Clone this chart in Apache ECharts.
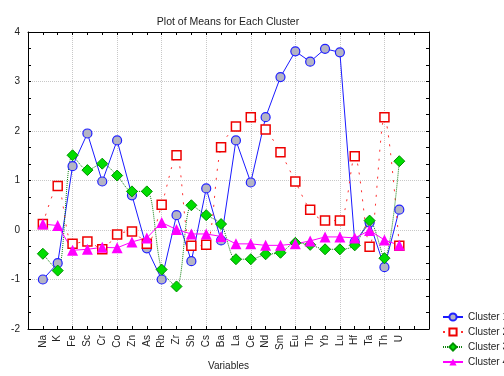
<!DOCTYPE html>
<html>
<head>
<meta charset="utf-8">
<script src="https://cdn.jsdelivr.net/npm/echarts@6/dist/echarts.min.js"></script>
<style>html,body{margin:0;padding:0;background:#fff}#c{width:504px;height:376px}</style>
</head>
<body>
<div id="c"></div>
<script>
const categories = ['Na','K','Fe','Sc','Cr','Co','Zn','As','Rb','Zr','Sb','Cs','Ba','La','Ce','Nd','Sm','Eu','Tb','Yb','Lu','Hf','Ta','Th','U'];
const cluster1 = [-1.00,-0.67,1.29,1.95,0.98,1.81,0.70,-0.37,-1.00,0.30,-0.63,0.84,-0.21,1.81,0.96,2.28,3.09,3.61,3.40,3.66,3.59,-0.24,0.15,-0.75,0.41];
const cluster2 = [0.12,0.89,-0.28,-0.23,-0.39,-0.09,-0.03,-0.28,0.51,1.51,-0.32,-0.30,1.67,2.09,2.28,2.03,1.57,0.98,0.41,0.19,0.19,1.49,-0.34,2.28,-0.32];
const cluster3 = [-0.48,-0.82,1.51,1.21,1.34,1.10,0.78,0.78,-0.80,-1.14,0.50,0.30,0.12,-0.59,-0.59,-0.49,-0.46,-0.26,-0.30,-0.39,-0.39,-0.31,0.19,-0.57,1.39];
const cluster4 = [0.12,0.09,-0.41,-0.39,-0.35,-0.36,-0.24,-0.16,0.15,0.01,-0.08,-0.08,-0.13,-0.28,-0.28,-0.31,-0.31,-0.28,-0.22,-0.14,-0.14,-0.16,-0.01,-0.20,-0.31];
const seriesNames = ['Cluster 1','Cluster 2','Cluster 3','Cluster 4'];
const yTicks = [-2,-1,0,1,2,3,4];

const axisCats = [''].concat(categories, ['', '']);
const toData = arr => arr.map((v, i) => [i + 1, v]);
const font = 'Liberation Sans, Arial, sans-serif';

const chart = echarts.init(document.getElementById('c'), null, {renderer: 'canvas'});
chart.setOption({
  animation: false,
  backgroundColor: '#ffffff',
  title: {
    text: 'Plot of Means for Each Cluster',
    left: 223, top: 12, textAlign: 'center',
    textStyle: {fontFamily: font, fontSize: 10.5, fontWeight: 'normal', color: '#222'}
  },
  grid: {left: 28, right: 75, top: 32, bottom: 40},
  legend: {
    orient: 'vertical', left: 437, top: 307,
    itemWidth: 20, itemHeight: 9, itemGap: 5,
    textStyle: {fontFamily: font, fontSize: 10, color: '#222'},
    data: seriesNames
  },
  xAxis: [{
    type: 'category', data: axisCats, boundaryGap: false, position: 'bottom',
    name: 'Variables', nameLocation: 'middle', nameGap: 30,
    nameTextStyle: {fontFamily: font, fontSize: 10, color: '#222', padding:[2,0,0,0]},
    axisLine: {onZero: false, lineStyle: {color: '#000', width: 1}},
    axisTick: {inside: true, length: 3, interval: 0, lineStyle: {color: '#000'}},
    axisLabel: {interval: 0, rotate: 90, fontFamily: font, fontSize: 10, color: '#222', margin: 6},
    splitLine: {show: true, interval: i => i % 3 === 0 && i > 0 && i < 27, lineStyle: {color: '#c8c8c8', type: [1, 1]}}
  }, {
    type: 'category', data: axisCats, boundaryGap: false, position: 'top',
    axisLine: {onZero: false, lineStyle: {color: '#000', width: 1}},
    axisTick: {inside: true, length: 3, interval: 0, lineStyle: {color: '#000'}},
    axisLabel: {show: false}, splitLine: {show: false}
  }],
  yAxis: [{
    type: 'value', min: -2, max: 4, interval: 1, position: 'left',
    axisLine: {show: true, onZero: false, lineStyle: {color: '#000', width: 1}},
    axisTick: {show: true, inside: true, length: 3, lineStyle: {color: '#000'}},
    minorTick: {show: true, splitNumber: 3, length: 3, lineStyle: {color: '#000'}},
    axisLabel: {fontFamily: font, fontSize: 10, color: '#222', margin: 8,
      formatter: v => yTicks.indexOf(v) >= 0 ? String(v) : ''},
    splitLine: {show: true, lineStyle: {color: '#c8c8c8', type: [1, 1]}}
  }, {
    type: 'value', min: -2, max: 4, interval: 1, position: 'right',
    axisLine: {show: true, onZero: false, lineStyle: {color: '#000', width: 1}},
    axisTick: {show: true, inside: true, length: 3, lineStyle: {color: '#000'}},
    minorTick: {show: true, splitNumber: 3, length: 3, lineStyle: {color: '#000'}},
    axisLabel: {show: false}, splitLine: {show: false}
  }],
  series: [{
    name: seriesNames[0], type: 'line', data: toData(cluster1),
    symbol: 'circle', symbolSize: 9,
    lineStyle: {color: '#1a1aff', width: 1},
    itemStyle: {color: '#b4b4c4', borderColor: '#2020ff', borderWidth: 1.2},
    color: '#1a1aff'
  }, {
    name: seriesNames[1], type: 'line', data: toData(cluster2), smooth: 0.3,
    symbol: 'rect', symbolSize: 9,
    lineStyle: {color: '#ff3030', width: 1, type: [2, 7]},
    itemStyle: {color: '#ffffff', borderColor: '#ee0000', borderWidth: 1.5},
    color: '#ee0000'
  }, {
    name: seriesNames[2], type: 'line', data: toData(cluster3), smooth: 0.3,
    symbol: 'diamond', symbolSize: 11,
    lineStyle: {color: '#108010', width: 1, type: [1, 1]},
    itemStyle: {color: '#00dd00', borderColor: '#009000', borderWidth: 1},
    color: '#00aa00'
  }, {
    name: seriesNames[3], type: 'line', data: toData(cluster4),
    symbol: 'triangle', symbolSize: 11,
    lineStyle: {color: '#ff00ff', width: 1},
    itemStyle: {color: '#ff00ff', borderColor: '#ff00ff', borderWidth: 0},
    color: '#ff00ff'
  }]
});
</script>
</body>
</html>
